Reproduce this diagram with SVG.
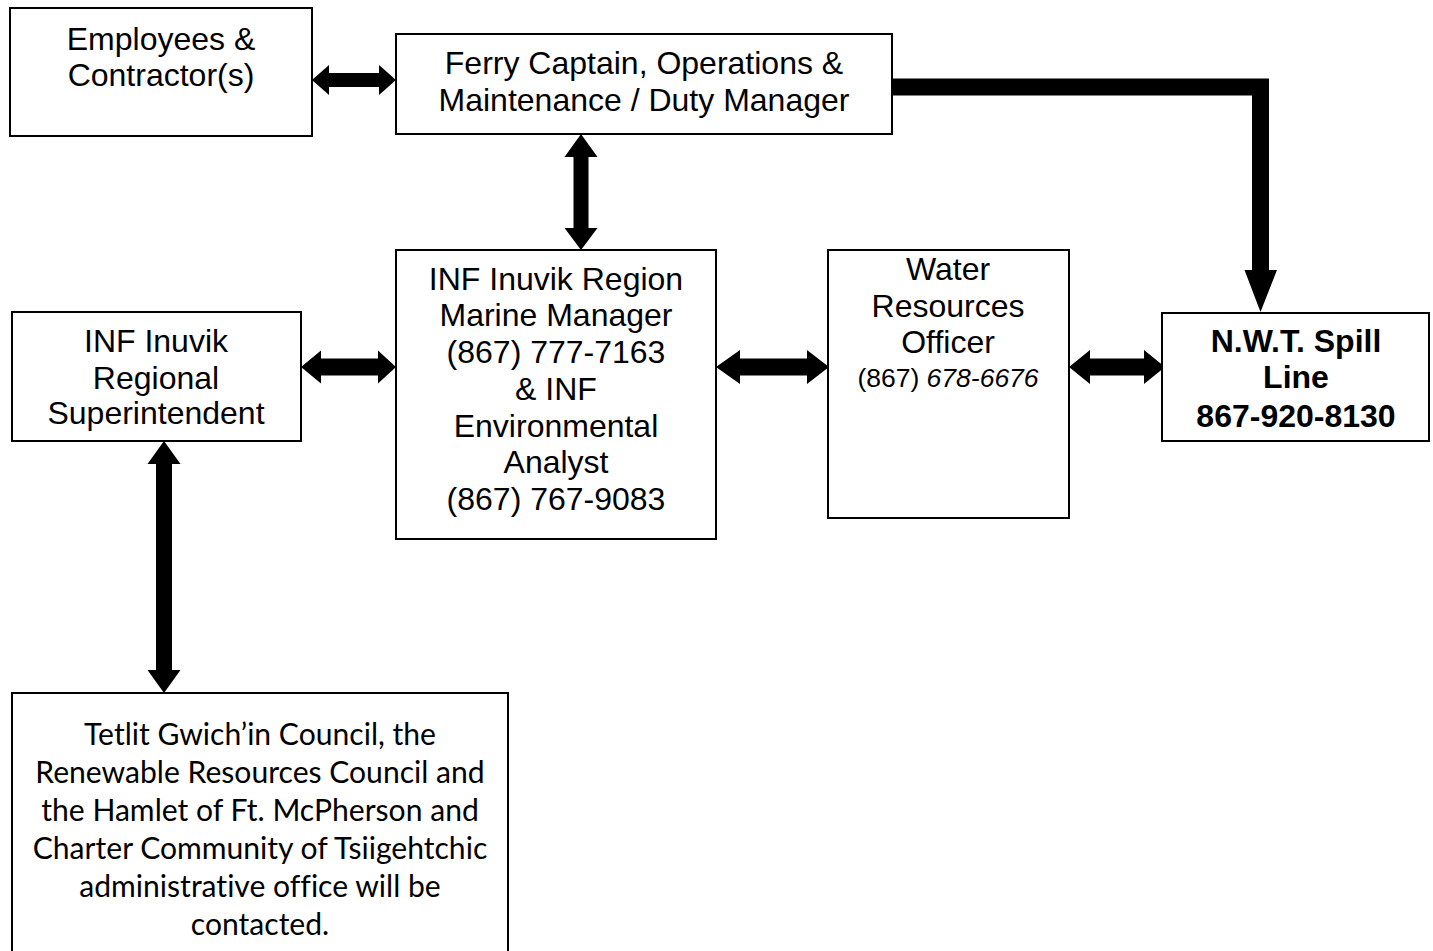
<svg xmlns="http://www.w3.org/2000/svg" width="1433" height="951" viewBox="0 0 1433 951">
<style>
.box{fill:#fff;stroke:#000;stroke-width:2}
.t{font-family:"Liberation Sans",Arial,sans-serif;font-size:32px;fill:#000;text-anchor:middle}
.b{font-weight:bold}
.s{font-size:26.5px}
.c{font-family:Lato,"Liberation Sans",sans-serif;font-size:30.1px;fill:#000;text-anchor:middle;font-variant-ligatures:none}
.arr{fill:#000}
</style>
<rect width="1433" height="951" fill="#fff"/>
<g id="connectors">
<polygon class="arr" points="312,80 329,65 329,73 379,73 379,65 396,80 379,95 379,87 329,87 329,95"/>
<polygon class="arr" points="581,134 597.5,157 588.5,157 588.5,228 597.5,228 581,250 564.5,228 573.5,228 573.5,157 564.5,157"/>
<polygon class="arr" points="301,367 321,350.5 321,358.5 378,358.5 378,350.5 396,367 378,383.5 378,375.5 321,375.5 321,383.5"/>
<polygon class="arr" points="164,441 180.5,464 172,464 172,670 180.5,670 164,693 147.5,670 156,670 156,464 147.5,464"/>
<polygon class="arr" points="716,367 740,350 740,358.5 807,358.5 807,350 829,367 807,384 807,375.5 740,375.5 740,384"/>
<polygon class="arr" points="1069,367 1090,350 1090,358.5 1144,358.5 1144,350 1165,367 1144,384 1144,375.5 1090,375.5 1090,384"/>
<polyline points="892,87 1260.5,87 1260.5,272" fill="none" stroke="#000" stroke-width="17" stroke-linejoin="miter"/>
<polygon class="arr" points="1244.5,270 1277,270 1260.5,312"/>
</g>
<g id="employees">
<rect class="box" x="10" y="8" width="302" height="128"/>
<text class="t" x="161" y="50">Employees &amp;</text>
<text class="t" x="161" y="86">Contractor(s)</text>
</g>
<g id="ferry">
<rect class="box" x="396" y="34" width="496" height="100"/>
<text class="t" x="644" y="74">Ferry Captain, Operations &amp;</text>
<text class="t" x="644" y="111">Maintenance / Duty Manager</text>
</g>
<g id="marine">
<rect class="box" x="396" y="250" width="320" height="289"/>
<text class="t" x="556" y="290">INF Inuvik Region</text>
<text class="t" x="556" y="326">Marine Manager</text>
<text class="t" x="556" y="363">(867) 777-7163</text>
<text class="t" x="556" y="400">&amp; INF</text>
<text class="t" x="556" y="437">Environmental</text>
<text class="t" x="556" y="473">Analyst</text>
<text class="t" x="556" y="510">(867) 767-9083</text>
</g>
<g id="superintendent">
<rect class="box" x="12" y="312" width="289" height="129"/>
<text class="t" x="156" y="352">INF Inuvik</text>
<text class="t" x="156" y="389">Regional</text>
<text class="t" x="156" y="424">Superintendent</text>
</g>
<g id="water">
<rect class="box" x="828" y="250" width="241" height="268"/>
<text class="t" x="948" y="280">Water</text>
<text class="t" x="948" y="317">Resources</text>
<text class="t" x="948" y="353">Officer</text>
<text class="t s" x="948" y="387">(867) <tspan font-style="italic">678-6676</tspan></text>
</g>
<g id="spill">
<rect class="box" x="1162" y="313" width="267" height="128"/>
<text class="t b" x="1296" y="352">N.W.T. Spill</text>
<text class="t b" x="1296" y="388">Line</text>
<text class="t b" x="1296" y="427">867-920-8130</text>
</g>
<g id="tetlit">
<rect class="box" x="12" y="693" width="496" height="270"/>
<text class="c" x="260" y="745">Tetlit Gwich’in Council, the</text>
<text class="c" x="260" y="783">Renewable Resources Council and</text>
<text class="c" x="260" y="821">the Hamlet of Ft. McPherson and</text>
<text class="c" x="260" y="859">Charter Community of Tsiigehtchic</text>
<text class="c" x="260" y="897">administrative office will be</text>
<text class="c" x="260" y="935">contacted.</text>
</g>
</svg>
